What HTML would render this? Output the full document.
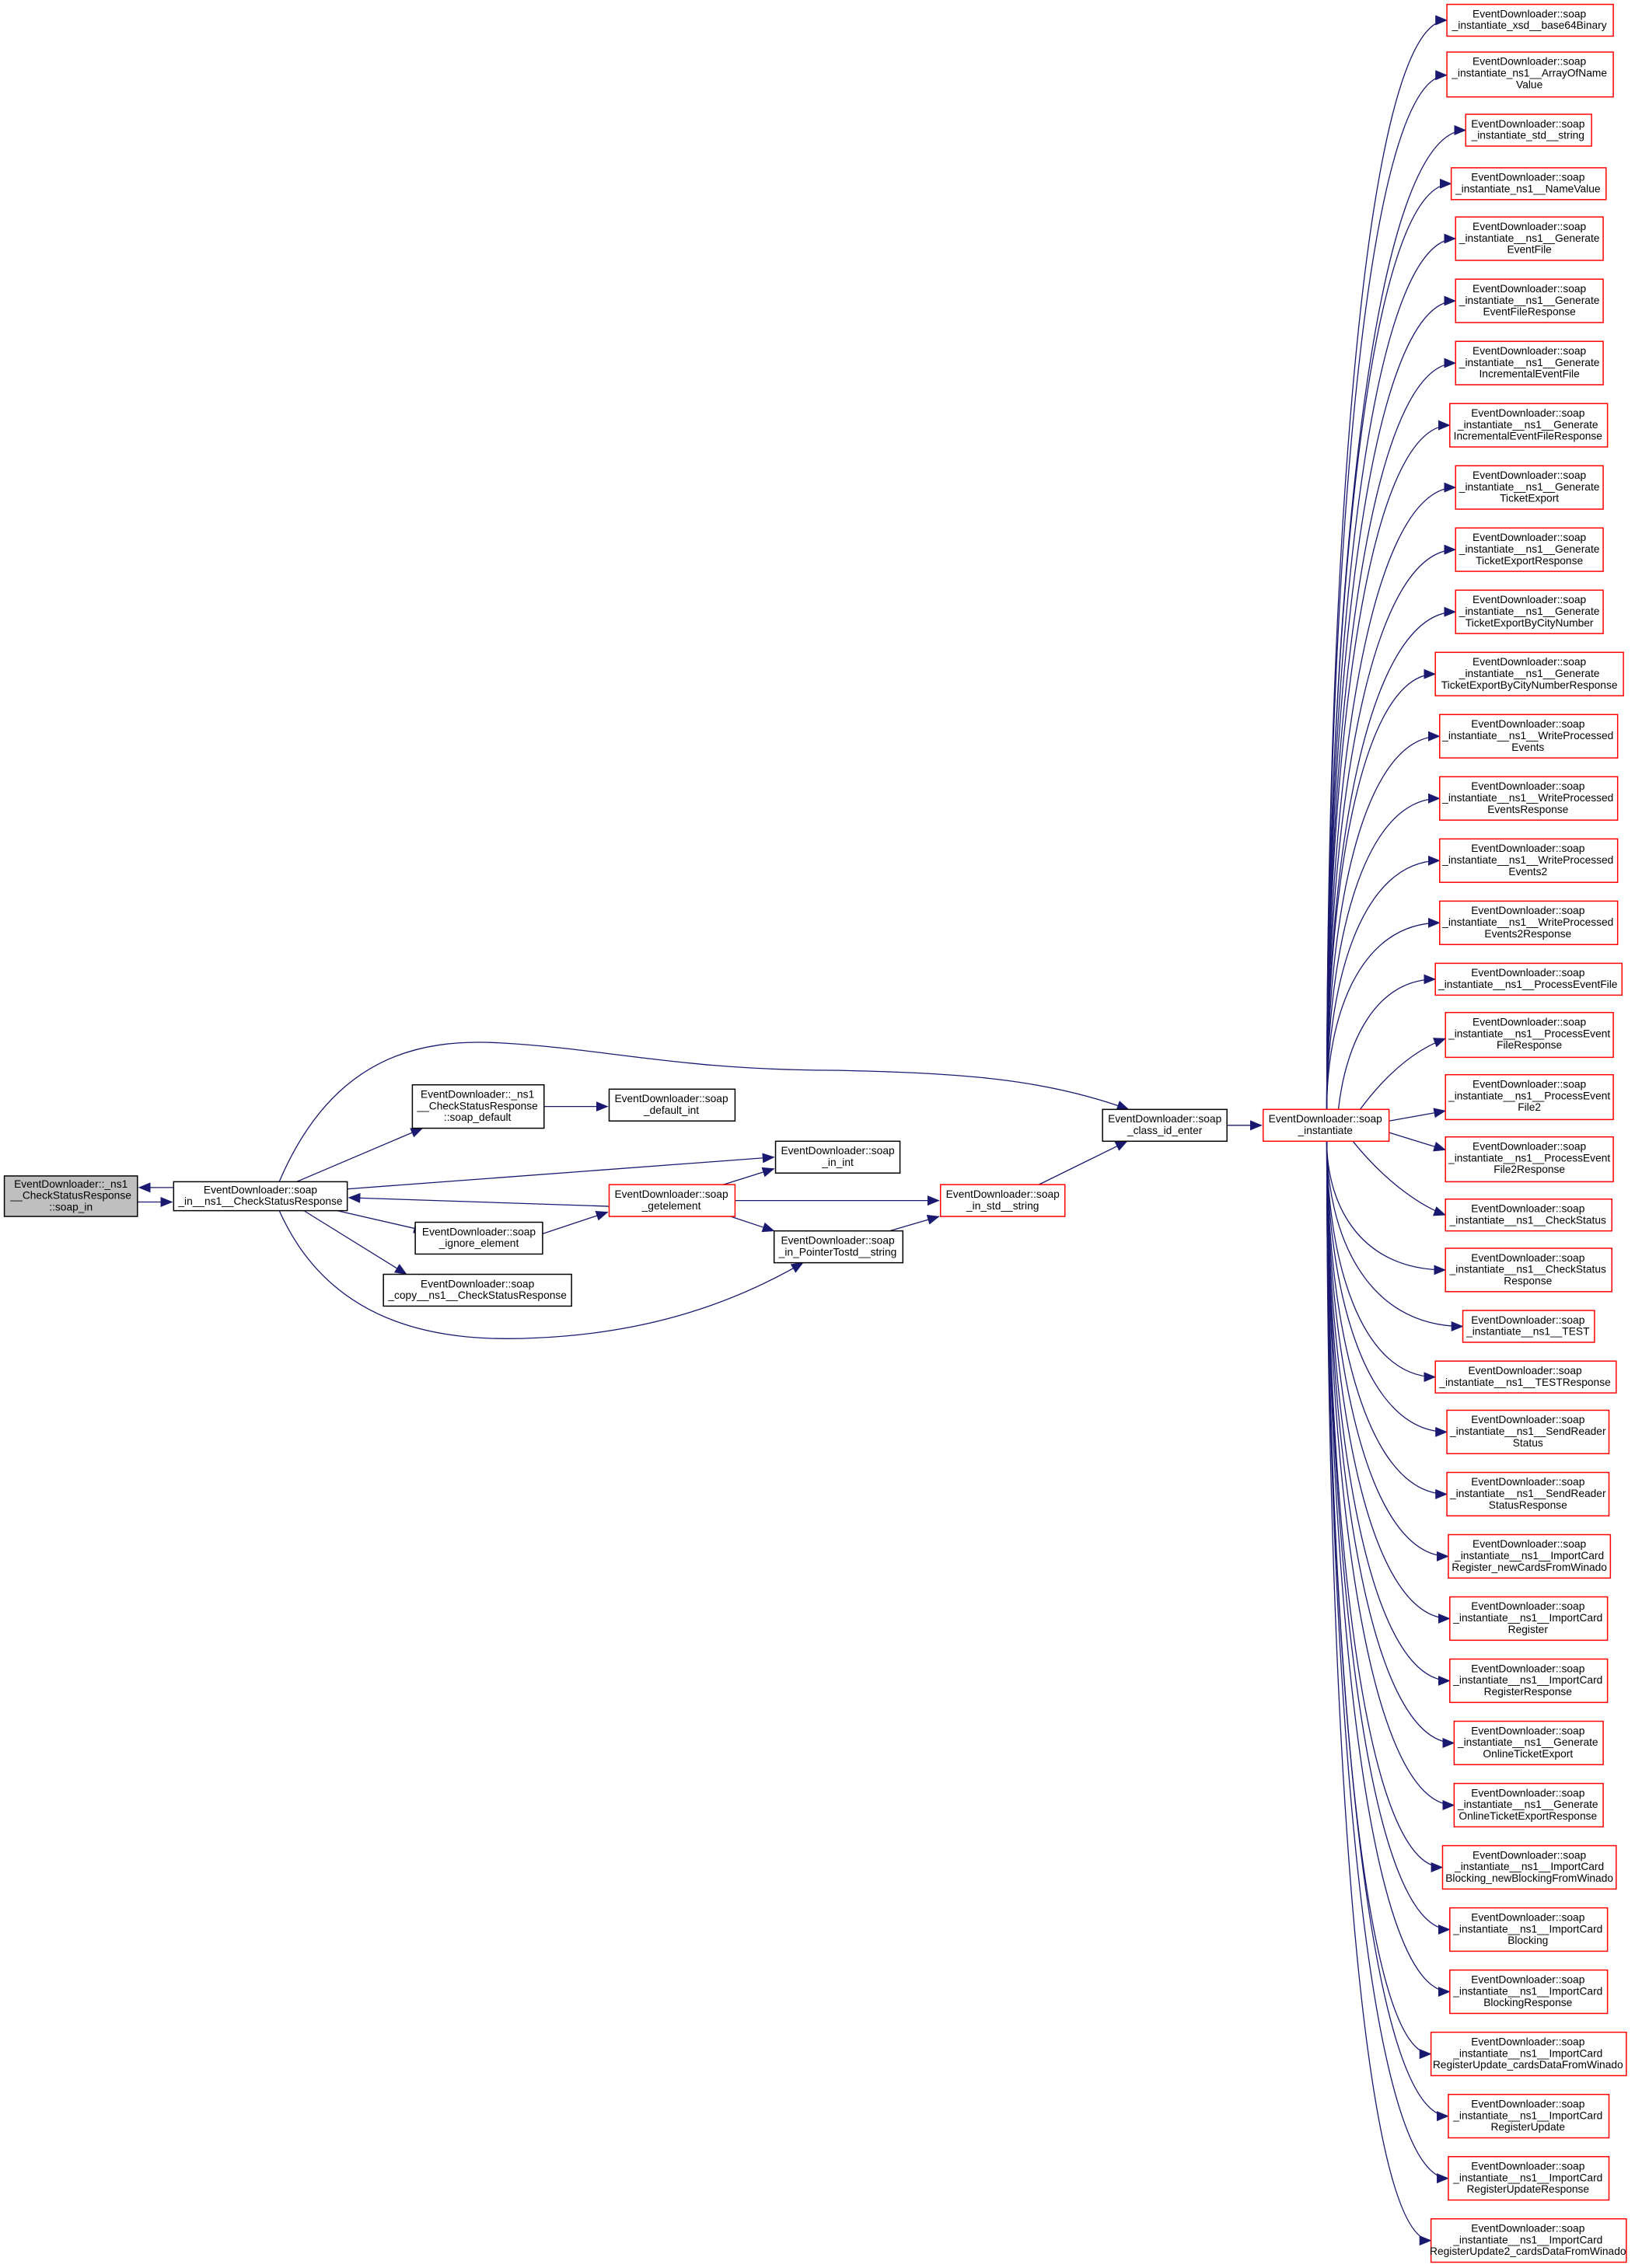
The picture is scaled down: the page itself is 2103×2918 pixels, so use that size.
<!DOCTYPE html>
<html><head><meta charset="utf-8"><style>
html,body{margin:0;padding:0;background:#fff}
svg{display:block}
text{font-family:"Liberation Sans",sans-serif;font-size:7.4px;fill:#000}
.e{fill:none;stroke:#191970;stroke-width:0.7}
.r{fill:#fff;stroke:#ff0000;stroke-width:0.8}
.b{fill:#fff;stroke:#000;stroke-width:0.8}
</style></head><body>
<svg width="2103" height="2918" viewBox="0 0 1130 1568" preserveAspectRatio="none" xmlns="http://www.w3.org/2000/svg">
<defs><marker id="a" markerUnits="userSpaceOnUse" markerWidth="9" markerHeight="8" refX="8" refY="4" orient="auto"><path d="M0,0.5 L8.5,4 L0,7.5 z" fill="#191970"/></marker></defs>
<g class="e" marker-end="url(#a)">
<path d="M120,821 L96,821"/>
<path d="M95,831 L119,831"/>
<path d="M205,817 L292,780"/>
<path d="M376,765 L420,765"/>
<path d="M240,822 L535,800"/>
<path d="M421,834 L241,828"/>
<path d="M233,837 L294,851"/>
<path d="M375,853 L420,838"/>
<path d="M210,837 L281,881"/>
<path d="M500,819 L535,808"/>
<path d="M508,830 L649,830"/>
<path d="M505,841 L535,851"/>
<path d="M615,851 L649,841"/>
<path d="M718,819 L779,789"/>
<path d="M848,778 L872,778"/>
<path d="M193,817 C230,730 290,718 345,721 C420,725 470,740 580,740 C660,742 720,745 780,767"/>
<path d="M193,837 C230,920 310,928 370,925 C440,922 500,905 555,873"/>
<path d="M917,767 C917,390 942,14 1000,14"/>
<path d="M917,767 C917,409 942,52 1000,52"/>
<path d="M917,767 C917,428 946,90 1013,90"/>
<path d="M917,767 C917,447 943,127 1003,127"/>
<path d="M917,767 C917,466 944,165 1006,165"/>
<path d="M917,767 C917,487 944,208 1006,208"/>
<path d="M917,767 C917,509 944,251 1006,251"/>
<path d="M917,767 C917,530 943,294 1002,294"/>
<path d="M917,767 C917,552 944,337 1006,337"/>
<path d="M917,767 C917,573 944,380 1006,380"/>
<path d="M917,767 C917,595 944,423 1006,423"/>
<path d="M917,767 C917,616 940,466 992,466"/>
<path d="M917,767 C917,638 940,509 995,509"/>
<path d="M917,767 C917,659 940,552 995,552"/>
<path d="M917,767 C917,681 940,595 995,595"/>
<path d="M917,767 C917,702 940,638 995,638"/>
<path d="M925,767 C930,722 950,677 992,677"/>
<path d="M940,767 C960,740 980,725 999,718"/>
<path d="M960,775 L999,768"/>
<path d="M960,783 L999,795"/>
<path d="M935,789 C960,820 985,835 999,840"/>
<path d="M917,789 C917,833 940,878 999,878"/>
<path d="M917,789 C917,853 944,917 1011,917"/>
<path d="M917,789 C917,870 940,952 992,952"/>
<path d="M917,789 C917,889 942,990 1000,990"/>
<path d="M917,789 C917,911 942,1033 1000,1033"/>
<path d="M917,789 C917,932 943,1076 1001,1076"/>
<path d="M917,789 C917,954 943,1119 1002,1119"/>
<path d="M917,789 C917,975 943,1162 1002,1162"/>
<path d="M917,789 C917,997 944,1205 1005,1205"/>
<path d="M917,789 C917,1018 944,1248 1005,1248"/>
<path d="M917,789 C917,1040 941,1291 997,1291"/>
<path d="M917,789 C917,1061 943,1334 1002,1334"/>
<path d="M917,789 C917,1083 943,1377 1002,1377"/>
<path d="M917,789 C917,1104 939,1420 989,1420"/>
<path d="M917,789 C917,1126 943,1463 1001,1463"/>
<path d="M917,789 C917,1147 943,1506 1001,1506"/>
<path d="M917,789 C917,1169 939,1549 989,1549"/>
</g>
<g text-anchor="middle">
<rect x="3" y="813" width="92" height="28" fill="#bfbfbf" stroke="#000" stroke-width="0.8"/>
<text x="49" y="821">EventDownloader::_ns1</text><text x="49" y="829">__CheckStatusResponse</text><text x="49" y="837">::soap_in</text>
<rect class="b" x="120" y="817" width="120" height="20"/><text x="180" y="825">EventDownloader::soap</text><text x="180" y="833">_in__ns1__CheckStatusResponse</text>
<rect class="b" x="285" y="750" width="91" height="30"/><text x="330" y="759">EventDownloader::_ns1</text><text x="330" y="767">__CheckStatusResponse</text><text x="330" y="775">::soap_default</text>
<rect class="b" x="421" y="753" width="87" height="22"/><text x="464" y="762">EventDownloader::soap</text><text x="464" y="770">_default_int</text>
<rect class="b" x="536" y="789" width="86" height="22"/><text x="579" y="798">EventDownloader::soap</text><text x="579" y="806">_in_int</text>
<rect class="r" x="421" y="819" width="87" height="22"/><text x="464" y="828">EventDownloader::soap</text><text x="464" y="836">_getelement</text>
<rect class="b" x="287" y="845" width="88" height="22"/><text x="331" y="854">EventDownloader::soap</text><text x="331" y="862">_ignore_element</text>
<rect class="b" x="265" y="881" width="130" height="22"/><text x="330" y="890">EventDownloader::soap</text><text x="330" y="898">_copy__ns1__CheckStatusResponse</text>
<rect class="b" x="535" y="851" width="89" height="22"/><text x="579" y="860">EventDownloader::soap</text><text x="579" y="868">_in_PointerTostd__string</text>
<rect class="r" x="650" y="819" width="86" height="22"/><text x="693" y="828">EventDownloader::soap</text><text x="693" y="836">_in_std__string</text>
<rect class="b" x="762" y="767" width="86" height="22"/><text x="805" y="776">EventDownloader::soap</text><text x="805" y="784">_class_id_enter</text>
<rect class="r" x="873" y="767" width="87" height="22"/><text x="916" y="776">EventDownloader::soap</text><text x="916" y="784">_instantiate</text>

<rect class="r" x="1000" y="3" width="115" height="22"/><text x="1057" y="12">EventDownloader::soap</text><text x="1057" y="20">_instantiate_xsd__base64Binary</text>
<rect class="r" x="1000" y="36" width="115" height="31"/><text x="1057" y="45">EventDownloader::soap</text><text x="1057" y="53">_instantiate_ns1__ArrayOfName</text><text x="1057" y="61">Value</text>
<rect class="r" x="1013" y="79" width="87" height="22"/><text x="1056" y="88">EventDownloader::soap</text><text x="1056" y="96">_instantiate_std__string</text>
<rect class="r" x="1003" y="116" width="107" height="22"/><text x="1056" y="125">EventDownloader::soap</text><text x="1056" y="133">_instantiate_ns1__NameValue</text>
<rect class="r" x="1006" y="150" width="102" height="30"/><text x="1057" y="159">EventDownloader::soap</text><text x="1057" y="167">_instantiate__ns1__Generate</text><text x="1057" y="175">EventFile</text>
<rect class="r" x="1006" y="193" width="102" height="30"/><text x="1057" y="202">EventDownloader::soap</text><text x="1057" y="210">_instantiate__ns1__Generate</text><text x="1057" y="218">EventFileResponse</text>
<rect class="r" x="1006" y="236" width="102" height="30"/><text x="1057" y="245">EventDownloader::soap</text><text x="1057" y="253">_instantiate__ns1__Generate</text><text x="1057" y="261">IncrementalEventFile</text>
<rect class="r" x="1002" y="279" width="109" height="30"/><text x="1056" y="288">EventDownloader::soap</text><text x="1056" y="296">_instantiate__ns1__Generate</text><text x="1056" y="304">IncrementalEventFileResponse</text>
<rect class="r" x="1006" y="322" width="102" height="30"/><text x="1057" y="331">EventDownloader::soap</text><text x="1057" y="339">_instantiate__ns1__Generate</text><text x="1057" y="347">TicketExport</text>
<rect class="r" x="1006" y="365" width="102" height="30"/><text x="1057" y="374">EventDownloader::soap</text><text x="1057" y="382">_instantiate__ns1__Generate</text><text x="1057" y="390">TicketExportResponse</text>
<rect class="r" x="1006" y="408" width="102" height="30"/><text x="1057" y="417">EventDownloader::soap</text><text x="1057" y="425">_instantiate__ns1__Generate</text><text x="1057" y="433">TicketExportByCityNumber</text>
<rect class="r" x="992" y="451" width="130" height="30"/><text x="1057" y="460">EventDownloader::soap</text><text x="1057" y="468">_instantiate__ns1__Generate</text><text x="1057" y="476">TicketExportByCityNumberResponse</text>
<rect class="r" x="995" y="494" width="123" height="30"/><text x="1056" y="503">EventDownloader::soap</text><text x="1056" y="511">_instantiate__ns1__WriteProcessed</text><text x="1056" y="519">Events</text>
<rect class="r" x="995" y="537" width="123" height="30"/><text x="1056" y="546">EventDownloader::soap</text><text x="1056" y="554">_instantiate__ns1__WriteProcessed</text><text x="1056" y="562">EventsResponse</text>
<rect class="r" x="995" y="580" width="123" height="30"/><text x="1056" y="589">EventDownloader::soap</text><text x="1056" y="597">_instantiate__ns1__WriteProcessed</text><text x="1056" y="605">Events2</text>
<rect class="r" x="995" y="623" width="123" height="30"/><text x="1056" y="632">EventDownloader::soap</text><text x="1056" y="640">_instantiate__ns1__WriteProcessed</text><text x="1056" y="648">Events2Response</text>
<rect class="r" x="992" y="666" width="129" height="22"/><text x="1056" y="675">EventDownloader::soap</text><text x="1056" y="683">_instantiate__ns1__ProcessEventFile</text>
<rect class="r" x="999" y="700" width="116" height="31"/><text x="1057" y="709">EventDownloader::soap</text><text x="1057" y="717">_instantiate__ns1__ProcessEvent</text><text x="1057" y="725">FileResponse</text>
<rect class="r" x="999" y="743" width="116" height="31"/><text x="1057" y="752">EventDownloader::soap</text><text x="1057" y="760">_instantiate__ns1__ProcessEvent</text><text x="1057" y="768">File2</text>
<rect class="r" x="999" y="786" width="116" height="31"/><text x="1057" y="795">EventDownloader::soap</text><text x="1057" y="803">_instantiate__ns1__ProcessEvent</text><text x="1057" y="811">File2Response</text>
<rect class="r" x="999" y="829" width="115" height="22"/><text x="1056" y="838">EventDownloader::soap</text><text x="1056" y="846">_instantiate__ns1__CheckStatus</text>
<rect class="r" x="999" y="863" width="115" height="30"/><text x="1056" y="872">EventDownloader::soap</text><text x="1056" y="880">_instantiate__ns1__CheckStatus</text><text x="1056" y="888">Response</text>
<rect class="r" x="1011" y="906" width="91" height="22"/><text x="1056" y="915">EventDownloader::soap</text><text x="1056" y="923">_instantiate__ns1__TEST</text>
<rect class="r" x="992" y="941" width="125" height="22"/><text x="1054" y="950">EventDownloader::soap</text><text x="1054" y="958">_instantiate__ns1__TESTResponse</text>
<rect class="r" x="1000" y="975" width="112" height="30"/><text x="1056" y="984">EventDownloader::soap</text><text x="1056" y="992">_instantiate__ns1__SendReader</text><text x="1056" y="1000">Status</text>
<rect class="r" x="1000" y="1018" width="112" height="30"/><text x="1056" y="1027">EventDownloader::soap</text><text x="1056" y="1035">_instantiate__ns1__SendReader</text><text x="1056" y="1043">StatusResponse</text>
<rect class="r" x="1001" y="1061" width="112" height="30"/><text x="1057" y="1070">EventDownloader::soap</text><text x="1057" y="1078">_instantiate__ns1__ImportCard</text><text x="1057" y="1086">Register_newCardsFromWinado</text>
<rect class="r" x="1002" y="1104" width="109" height="30"/><text x="1056" y="1113">EventDownloader::soap</text><text x="1056" y="1121">_instantiate__ns1__ImportCard</text><text x="1056" y="1129">Register</text>
<rect class="r" x="1002" y="1147" width="109" height="30"/><text x="1056" y="1156">EventDownloader::soap</text><text x="1056" y="1164">_instantiate__ns1__ImportCard</text><text x="1056" y="1172">RegisterResponse</text>
<rect class="r" x="1005" y="1190" width="103" height="30"/><text x="1056" y="1199">EventDownloader::soap</text><text x="1056" y="1207">_instantiate__ns1__Generate</text><text x="1056" y="1215">OnlineTicketExport</text>
<rect class="r" x="1005" y="1233" width="103" height="30"/><text x="1056" y="1242">EventDownloader::soap</text><text x="1056" y="1250">_instantiate__ns1__Generate</text><text x="1056" y="1258">OnlineTicketExportResponse</text>
<rect class="r" x="997" y="1276" width="120" height="30"/><text x="1057" y="1285">EventDownloader::soap</text><text x="1057" y="1293">_instantiate__ns1__ImportCard</text><text x="1057" y="1301">Blocking_newBlockingFromWinado</text>
<rect class="r" x="1002" y="1319" width="109" height="30"/><text x="1056" y="1328">EventDownloader::soap</text><text x="1056" y="1336">_instantiate__ns1__ImportCard</text><text x="1056" y="1344">Blocking</text>
<rect class="r" x="1002" y="1362" width="109" height="30"/><text x="1056" y="1371">EventDownloader::soap</text><text x="1056" y="1379">_instantiate__ns1__ImportCard</text><text x="1056" y="1387">BlockingResponse</text>
<rect class="r" x="989" y="1405" width="135" height="30"/><text x="1056" y="1414">EventDownloader::soap</text><text x="1056" y="1422">_instantiate__ns1__ImportCard</text><text x="1056" y="1430">RegisterUpdate_cardsDataFromWinado</text>
<rect class="r" x="1001" y="1448" width="111" height="30"/><text x="1056" y="1457">EventDownloader::soap</text><text x="1056" y="1465">_instantiate__ns1__ImportCard</text><text x="1056" y="1473">RegisterUpdate</text>
<rect class="r" x="1001" y="1491" width="111" height="30"/><text x="1056" y="1500">EventDownloader::soap</text><text x="1056" y="1508">_instantiate__ns1__ImportCard</text><text x="1056" y="1516">RegisterUpdateResponse</text>
<rect class="r" x="989" y="1534" width="135" height="30"/><text x="1056" y="1543">EventDownloader::soap</text><text x="1056" y="1551">_instantiate__ns1__ImportCard</text><text x="1056" y="1559">RegisterUpdate2_cardsDataFromWinado</text>
</g>
</svg>
</body></html>
